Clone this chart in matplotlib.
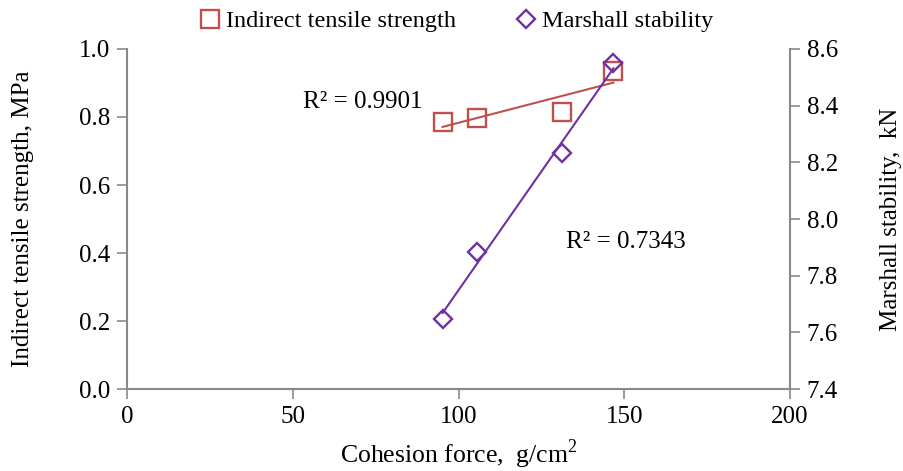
import numpy as np
import matplotlib
matplotlib.use("Agg")
import matplotlib.pyplot as plt

plt.rcParams['font.family'] = ['Liberation Serif', 'DejaVu Serif']
plt.rcParams['mathtext.fontset'] = 'custom'
plt.rcParams['mathtext.rm'] = 'Liberation Serif'

# cohesion force of each mix, g/cm2
cohesion = [95.2, 105.5, 131.3, 146.7]
# indirect tensile strength, MPa
its = [0.786, 0.796, 0.814, 0.935]
# Marshall stability, kN
stability = [7.646, 7.885, 8.232, 8.552]

its_r2 = "R² = 0.9901"
ms_r2 = "R² = 0.7343"

RED = "#C0504D"
PURPLE = "#7030A0"
GREY = "#898989"
FS = 18

fig = plt.figure(figsize=(9.04, 4.71), dpi=100)
ax = fig.add_axes([0.1405, 0.174, 0.7335, 0.722])
ax2 = ax.twinx()

h1, = ax.plot(cohesion, its, linestyle="none", marker="s", markersize=13,
              markerfacecolor="none", markeredgecolor=RED, markeredgewidth=1.7,
              label="Indirect tensile strength")
h2, = ax2.plot(cohesion, stability, linestyle="none", marker="D", markersize=9.5,
               markerfacecolor="none", markeredgecolor=PURPLE, markeredgewidth=1.7,
               label="Marshall stability")

# linear trendlines over the data range
xs = np.array([min(cohesion), max(cohesion)])
k, b = np.polyfit(cohesion, its, 1)
ax.plot(xs, k * xs + b, color=RED, linewidth=1.5)
k2, b2 = np.polyfit(cohesion, stability, 1)
ax2.plot(xs, k2 * xs + b2, color=PURPLE, linewidth=1.5)

ax.text(53, 0.843, its_r2, fontsize=FS, va="center", ha="left")
ax.text(132.5, 0.432, ms_r2, fontsize=FS, va="center", ha="left")

ax.set_xlim(0, 200)
ax.set_ylim(0, 1.0)
ax2.set_ylim(7.4, 8.6)
ax.set_xticks([0, 50, 100, 150, 200])
ax.set_yticks(np.arange(0, 1.01, 0.2))
ax2.set_yticks(np.arange(7.4, 8.61, 0.2))
ax.yaxis.set_major_formatter(matplotlib.ticker.FormatStrFormatter("%.1f"))
ax2.yaxis.set_major_formatter(matplotlib.ticker.FormatStrFormatter("%.1f"))

for a in (ax, ax2):
    a.spines["top"].set_visible(False)
    for s in ("left", "right", "bottom"):
        a.spines[s].set_color(GREY)
        a.spines[s].set_linewidth(1.5)
    a.tick_params(labelsize=FS, color=GREY, width=1.2, length=7, direction="out", pad=5)
ax.spines["right"].set_visible(False)
ax2.spines["left"].set_visible(False)
ax2.spines["bottom"].set_visible(False)

ax.set_xlabel("Cohesion force,  g/cm$^{2}$", fontsize=18.5)
ax.set_ylabel("Indirect tensile strength, MPa", fontsize=FS)
ax2.set_ylabel("Marshall stability,  kN", fontsize=FS)
ax.xaxis.set_label_coords(0.5, -0.142)
ax.yaxis.set_label_coords(-0.14, 0.5)
ax2.yaxis.set_label_coords(1.136, 0.5)

fig.legend(handles=[h1, h2], loc="upper center", bbox_to_anchor=(0.505, 1.025),
           ncol=2, frameon=False, fontsize=17.5, handlelength=0.8,
           handletextpad=0.25, columnspacing=2.5)

fig.savefig("out.png", dpi=100)
